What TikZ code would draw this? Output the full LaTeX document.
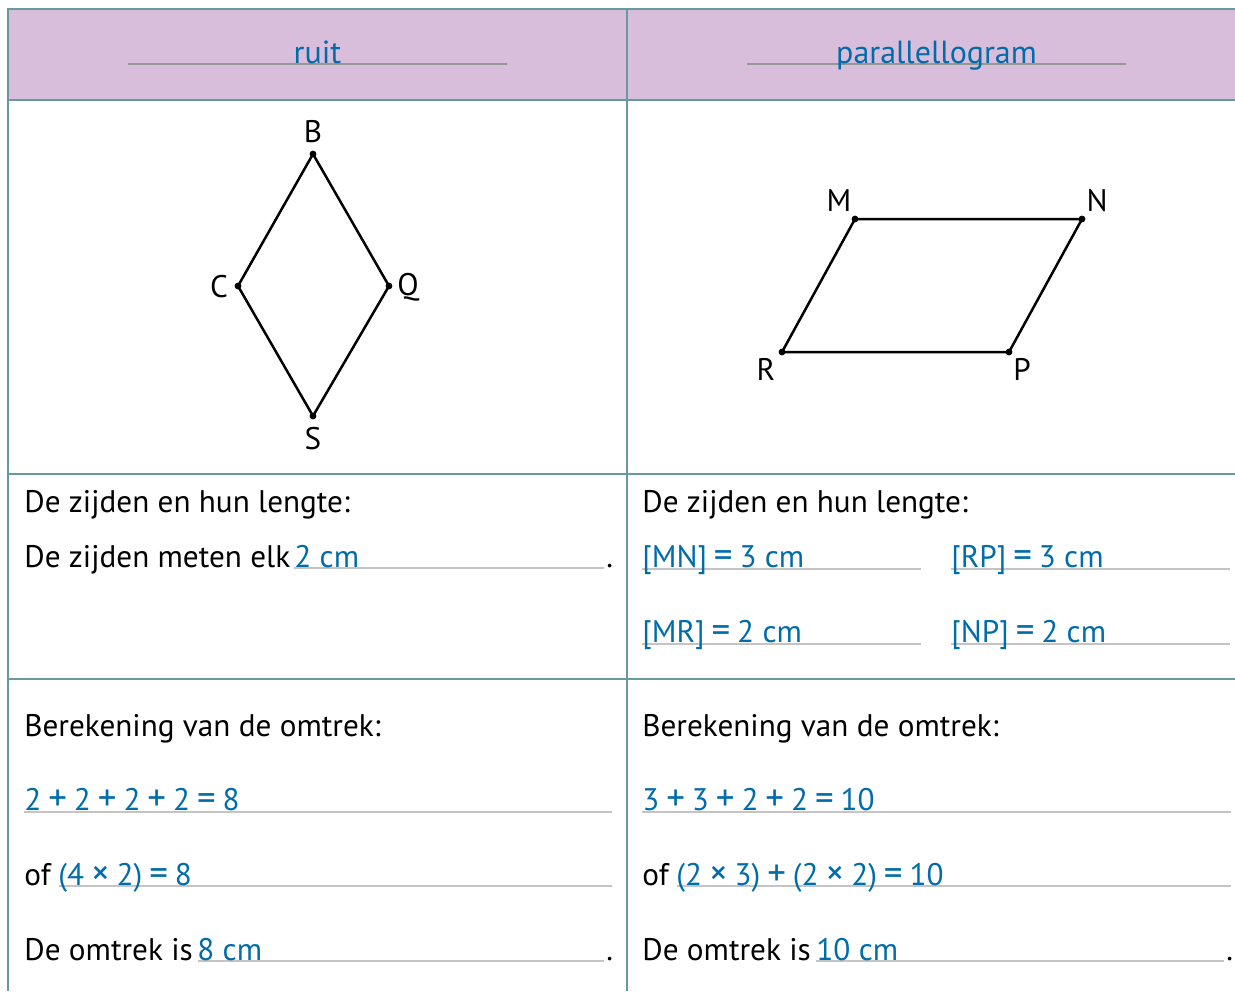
\documentclass[tikz,border=0pt]{standalone}
\usepackage{fontspec}
\setmainfont{PT Sans}
\usepackage{xcolor}
\usepackage{tikz}

\definecolor{rand}{RGB}{104,152,160}
\definecolor{kop}{RGB}{216,190,219}
\definecolor{blauw}{RGB}{0,108,170}
\definecolor{grijs}{RGB}{196,196,196}
\definecolor{kopgrijs}{RGB}{150,150,150}

% grotere rekentekens
\newcommand{\teken}[1]{\:{\fontsize{18.5}{19}\selectfont #1}\:}
\newcommand{\keer}{\teken{×}}
\newcommand{\plus}{\teken{+}}
\newcommand{\isgel}{\teken{=}}

\begin{document}
\begin{tikzpicture}[x=0.5pt, y=-0.5pt,
    tekst/.style={anchor=base west, inner sep=0pt, font=\fontsize{15.6}{19}\selectfont},
    antw/.style={tekst, text=blauw},
    titel/.style={anchor=base, inner sep=0pt, text=blauw, font=\fontsize{16}{19}\selectfont},
    letter/.style={inner sep=0pt, font=\fontsize{15.6}{19}\selectfont},
    punt/.style={circle, fill=black, inner sep=0pt, minimum size=3.4pt},
    zijde/.style={line width=1.25pt, line join=round},
    rooster/.style={draw=rand, line width=1.1pt},
    invul/.style={draw=grijs, line width=0.9pt}]
    \useasboundingbox (0,0) rectangle (1235,991);

    % kopregel
    \fill[kop] (8,9) rectangle (1235,100);
    \draw[rooster] (8,991) -- (8,9) -- (1235,9);
    \draw[rooster] (8,100) -- (1235,100);
    \draw[rooster] (8,474) -- (1235,474);
    \draw[rooster] (8,679) -- (1235,679);
    \draw[rooster] (627,9) -- (627,991);

    \draw[kopgrijs, line width=1pt] (128,64) -- (507,64);
    \draw[kopgrijs, line width=1pt] (747,64) -- (1126,64);
    \node[titel] (ruit) at (317.5,63) {ruit};
    \node[titel] (para) at (936.5,63) {parallellogram};

    % ruit BQSC
    \node[punt] (B) at (313,154) {};
    \node[punt] (Q) at (389,286) {};
    \node[punt] (S) at (313,416) {};
    \node[punt] (C) at (238,286) {};
    \draw[zijde] (B.center) -- (Q.center) -- (S.center) -- (C.center) -- cycle;
    \node[letter] (lB) at (313,132) {B};
    \node[letter] (lQ) at (408,287) {Q};
    \node[letter] (lS) at (313,439) {S};
    \node[letter] (lC) at (219,287) {C};

    % parallellogram MNPR
    \node[punt] (M) at (855,219) {};
    \node[punt] (N) at (1082,219) {};
    \node[punt] (P) at (1009,352) {};
    \node[punt] (R) at (782,352) {};
    \draw[zijde] (M.center) -- (N.center) -- (P.center) -- (R.center) -- cycle;
    \node[letter] (lM) at (839,201) {M};
    \node[letter] (lN) at (1097,201) {N};
    \node[letter] (lP) at (1022,369) {P};
    \node[letter] (lR) at (766,369) {R};

    % zijden links
    \node[tekst] (zijL) at (24,512) {De zijden en hun lengte:};
    \draw[invul] (294,568) -- (604,568);
    \node[tekst] (metL) at (24,567) {De zijden meten elk};
    \node[antw] (metA) at (294,567) {2 cm};
    \node[tekst] (metP) at (606,567) {.};

    % zijden rechts
    \node[tekst] (zijR) at (642,512) {De zijden en hun lengte:};
    \draw[invul] (642,569) -- (921,569);
    \draw[invul] (951,569) -- (1230,569);
    \draw[invul] (642,644) -- (921,644);
    \draw[invul] (951,644) -- (1230,644);
    \node[antw] (MN) at (642,567) {[MN]\isgel3 cm};
    \node[antw] (RP) at (951,567) {[RP]\isgel3 cm};
    \node[antw] (MR) at (642,642) {[MR]\isgel2 cm};
    \node[antw] (NP) at (951,642) {[NP]\isgel2 cm};

    % omtrek links
    \node[tekst] (berL) at (24,736) {Berekening van de omtrek:};
    \draw[invul] (24,812) -- (612,812);
    \draw[invul] (59,886) -- (612,886);
    \draw[invul] (198,961) -- (604,961);
    \node[antw] (somL) at (24,810) {2\plus2\plus2\plus2\isgel8};
    \node[tekst] (ofL) at (24,885) {of};
    \node[antw] (prodL) at (58,885) {(4\keer2)\isgel8};
    \node[tekst] (omtL) at (24,960) {De omtrek is};
    \node[antw] (omtLA) at (197,960) {8 cm};
    \node[tekst] (omtLP) at (606,960) {.};

    % omtrek rechts
    \node[tekst] (berR) at (642,736) {Berekening van de omtrek:};
    \draw[invul] (642,812) -- (1231,812);
    \draw[invul] (677,886) -- (1231,886);
    \draw[invul] (816,961) -- (1224,961);
    \node[antw] (somR) at (642,810) {3\plus3\plus2\plus2\isgel10};
    \node[tekst] (ofR) at (642,885) {of};
    \node[antw] (prodR) at (676,885) {(2\keer3)\plus(2\keer2)\isgel10};
    \node[tekst] (omtR) at (642,960) {De omtrek is};
    \node[antw] (omtRA) at (816,960) {10 cm};
    \node[tekst] (omtRP) at (1226,960) {.};
\end{tikzpicture}
\end{document}
